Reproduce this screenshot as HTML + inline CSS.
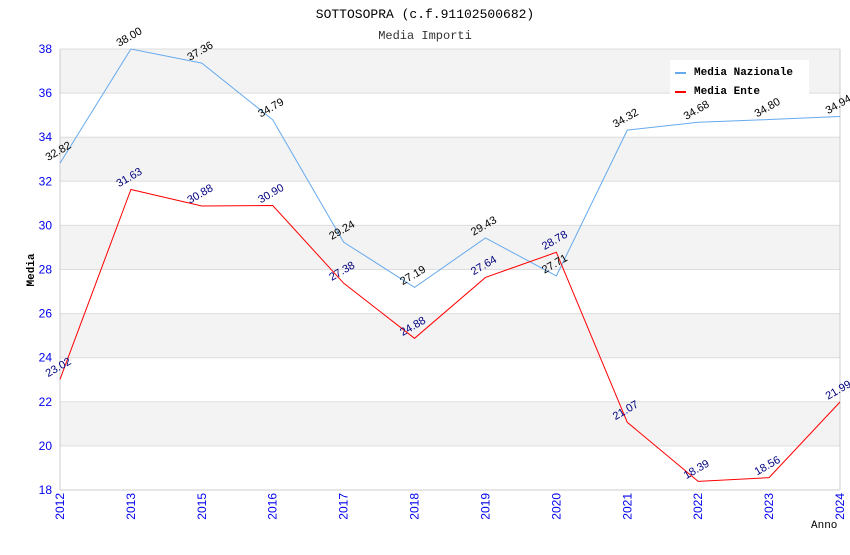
<!DOCTYPE html>
<html><head><meta charset="utf-8"><style>
body{margin:0;background:#fff}
svg text{font-family:"Liberation Mono",monospace}
</style></head><body>
<svg id="c" width="850" height="550" xmlns="http://www.w3.org/2000/svg">
<text x="425" y="18" text-anchor="middle" font-size="13" fill="#000">SOTTOSOPRA (c.f.91102500682)</text>
<text x="425" y="39" text-anchor="middle" font-size="12" fill="#333">Media Importi</text>
<g id="grid"></g>
<g id="series"></g>
<g id="labels"></g>
<text transform="translate(34,270) rotate(-90)" text-anchor="middle" font-size="11" font-weight="bold">Media</text>
<text x="811" y="528" font-size="11">Anno</text>
<g>
<rect x="670" y="60" width="139" height="36" fill="#fff"/>
<g><line x1="675" y1="73" x2="686" y2="73" stroke="#66aaee" stroke-width="2"/><text x="694" y="75" font-size="11" font-weight="bold">Media Nazionale</text></g>
<g><line x1="675" y1="92" x2="686" y2="92" stroke="#ff0000" stroke-width="2"/><text x="694" y="94" font-size="11" font-weight="bold">Media Ente</text></g>
</g>
</svg>
<script>
const categories=["2012","2013","2015","2016","2017","2018","2019","2020","2021","2022","2023","2024"];
const nazionale=[32.82,38.00,37.36,34.79,29.24,27.19,29.43,27.71,34.32,34.68,34.80,34.94];
const ente=[23.02,31.63,30.88,30.90,27.38,24.88,27.64,28.78,21.07,18.39,18.56,21.99];
const yTicks=[18,20,22,24,26,28,30,32,34,36,38];
const L=60,R=840,T=49,B=490,yMin=18,yMax=38;
const NS="http://www.w3.org/2000/svg";
const xs=i=>L+i*(R-L)/(categories.length-1);
const ys=v=>B-(v-yMin)/(yMax-yMin)*(B-T);
function mk(t,a,p){const e=document.createElementNS(NS,t);for(const k in a)e.setAttribute(k,a[k]);p.appendChild(e);return e;}
const g=document.getElementById('grid'),s=document.getElementById('series'),lb=document.getElementById('labels');
const sans='font-family:"Liberation Sans",sans-serif';
for(let i=0;i<yTicks.length-1;i++){
  if(i%2===1){const r=mk('rect',{x:L,y:ys(yTicks[i+1]),width:R-L,height:ys(yTicks[i])-ys(yTicks[i+1]),fill:'#f3f3f3'},g);
  
  }
}
yTicks.forEach(v=>{
  const l=mk('line',{x1:L,x2:R,y1:ys(v),y2:ys(v),stroke:'#dddddd'},g);
  
  
  const t=mk('text',{x:52,y:ys(v)+4,'text-anchor':'end','font-size':12,fill:'#0000ee',style:sans},g);
  t.textContent=v;
  
  
});
mk('line',{x1:L,x2:L,y1:T,y2:B,stroke:'#cccccc'},g);
mk('line',{x1:R,x2:R,y1:T,y2:B,stroke:'#cccccc'},g);
mk('line',{x1:L,x2:R,y1:B,y2:B,stroke:'#cccccc'},g);
categories.forEach((c,i)=>{
  const t=mk('text',{transform:`translate(${xs(i)+4},${B+3}) rotate(-90)`,'text-anchor':'end','font-size':12,fill:'#0000ee',style:sans},g);
  t.textContent=c;
  
  
});
function draw(data,color,lc,name){
  const p=mk('polyline',{points:data.map((v,i)=>xs(i)+','+ys(v)).join(' '),fill:'none',stroke:color,'stroke-width':1},s);
  
  
  data.forEach((v,i)=>{
    const t=mk('text',{transform:`translate(${xs(i)},${ys(v)-9}) rotate(-30)`,'text-anchor':'middle','font-size':11,fill:lc,style:sans},lb);
    t.textContent=v.toFixed(2);
    
    
  });
}
draw(nazionale,'#66aaee','#000','nazionale');
draw(ente,'#ff0000','#000080','ente');
</script>
</body></html>
